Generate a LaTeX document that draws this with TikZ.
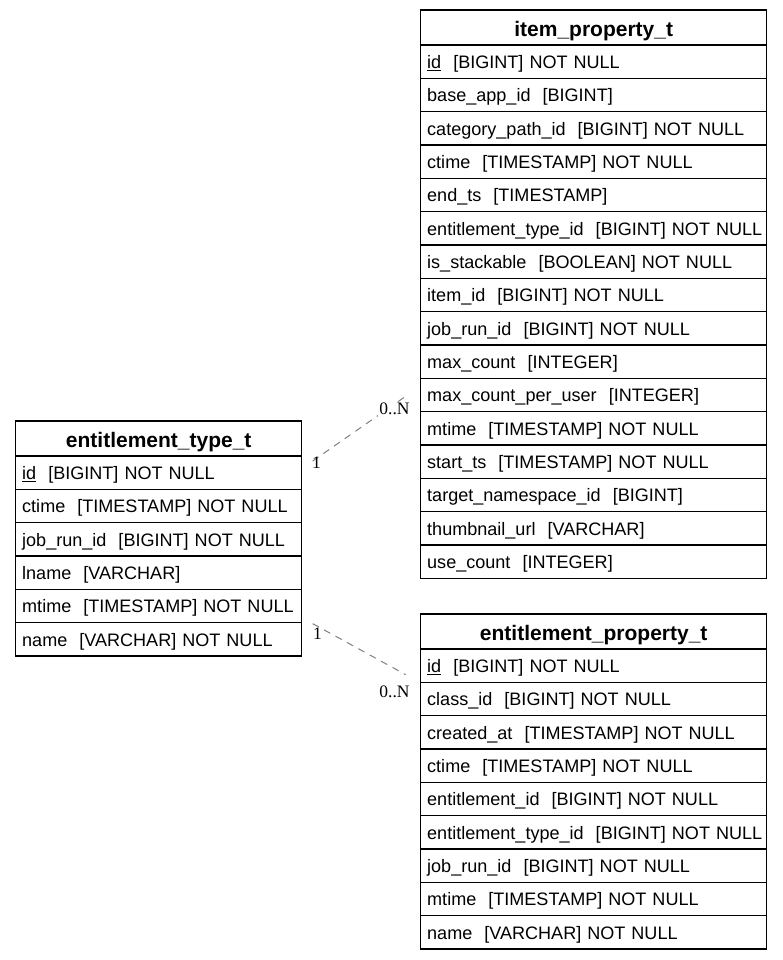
\documentclass[tikz,border=0pt]{standalone}
\usepackage{fontspec}
\setmainfont{Liberation Sans}
\newfontfamily\cardfont{Liberation Serif}
\usetikzlibrary{calc}
\tikzset{
  tbl/.style={draw, line width=1.1pt, anchor=north west, inner ysep=0pt, inner xsep=6.5pt, outer sep=0pt},
  headcell/.style={tbl, minimum height=35pt, font=\fontsize{21}{24}\selectfont\bfseries, align=center, text height=22.9pt, text depth=4.5pt},
  rowcell/.style={tbl, minimum height=33.33pt, font=\fontsize{18.05}{22}\selectfont, align=left, text height=17.6pt, text depth=4pt},
  rel/.style={draw={rgb,255:red,128;green,128;blue,128}, line width=1pt, dash pattern=on 7pt off 6pt},
  card/.style={font=\cardfont\fontsize{17.5}{20}\selectfont, inner sep=1pt}
}
\begin{document}
\begin{tikzpicture}[x=1pt,y=-1pt]
\useasboundingbox[fill=white] (0,0) rectangle (783,960);
% item_property_t
\node[headcell, text width=333pt] (item-0) at (420.7,10) {item\_property\_t};
\foreach \t [count=\i] in {
  {\underline{id}\ \ [BIGINT] NOT NULL},
  {base\_app\_id\ \ [BIGINT]},
  {category\_path\_id\ \ [BIGINT] NOT NULL},
  {ctime\ \ [TIMESTAMP] NOT NULL},
  {end\_ts\ \ [TIMESTAMP]},
  {entitlement\_type\_id\ \ [BIGINT] NOT NULL},
  {is\_stackable\ \ [BOOLEAN] NOT NULL},
  {item\_id\ \ [BIGINT] NOT NULL},
  {job\_run\_id\ \ [BIGINT] NOT NULL},
  {max\_count\ \ [INTEGER]},
  {max\_count\_per\_user\ \ [INTEGER]},
  {mtime\ \ [TIMESTAMP] NOT NULL},
  {start\_ts\ \ [TIMESTAMP] NOT NULL},
  {target\_namespace\_id\ \ [BIGINT]},
  {thumbnail\_url\ \ [VARCHAR]},
  {use\_count\ \ [INTEGER]}}
  \node[rowcell, text width=333pt] (item-\i) at (420.7,{45+(\i-1)*33.33}) {\mbox{\t}};
% entitlement_type_t
\node[headcell, text width=273pt] (type-0) at (15.7,421) {entitlement\_type\_t};
\foreach \t [count=\i] in {
  {\underline{id}\ \ [BIGINT] NOT NULL},
  {ctime\ \ [TIMESTAMP] NOT NULL},
  {job\_run\_id\ \ [BIGINT] NOT NULL},
  {lname\ \ [VARCHAR]},
  {mtime\ \ [TIMESTAMP] NOT NULL},
  {name\ \ [VARCHAR] NOT NULL}}
  \node[rowcell, text width=273pt] (type-\i) at (15.7,{456+(\i-1)*33.33}) {\mbox{\t}};
% entitlement_property_t
\node[headcell, text width=333pt] (prop-0) at (420.7,614) {entitlement\_property\_t};
\foreach \t [count=\i] in {
  {\underline{id}\ \ [BIGINT] NOT NULL},
  {class\_id\ \ [BIGINT] NOT NULL},
  {created\_at\ \ [TIMESTAMP] NOT NULL},
  {ctime\ \ [TIMESTAMP] NOT NULL},
  {entitlement\_id\ \ [BIGINT] NOT NULL},
  {entitlement\_type\_id\ \ [BIGINT] NOT NULL},
  {job\_run\_id\ \ [BIGINT] NOT NULL},
  {mtime\ \ [TIMESTAMP] NOT NULL},
  {name\ \ [VARCHAR] NOT NULL}}
  \node[rowcell, text width=333pt] (prop-\i) at (420.7,{649+(\i-1)*33.33}) {\mbox{\t}};
% relations
\coordinate (r1s) at ($(type-1.north east)+(11,5)$);
\coordinate (r1e) at ($(item-11.west)+(-16,2)$);
\coordinate (r2s) at ($(type-5.south east)+(11,1)$);
\coordinate (r2e) at ($(prop-1.west)+(-15,9)$);
\draw[rel] (r1s) -- (r1e);
\draw[rel] (r2s) -- (r2e);
\node[card] (c1a) at (316.5,463) {1};
\node[card, fill=white] (c1b) at (394.5,409) {0..N};
\node[card] (c2a) at (317.5,634) {1};
\node[card] (c2b) at (394.5,692) {0..N};
\end{tikzpicture}
\end{document}
